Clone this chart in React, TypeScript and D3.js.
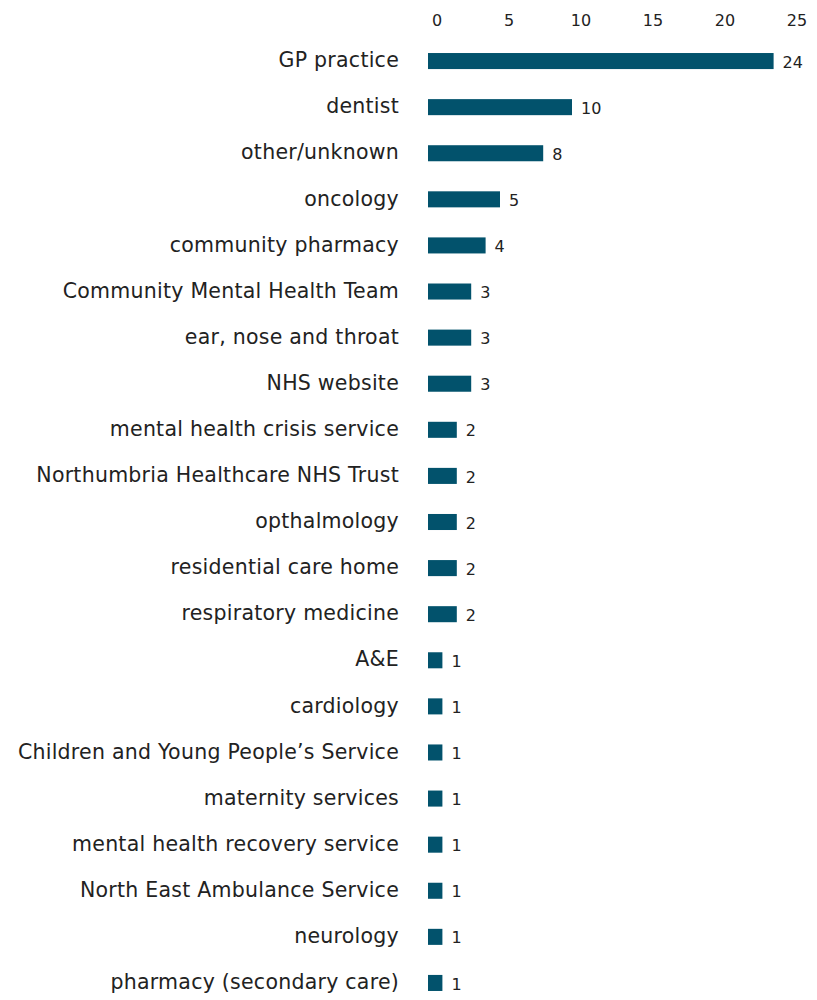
import React from "react";
import * as d3 from "d3";

const categories = [
  "GP practice",
  "dentist",
  "other/unknown",
  "oncology",
  "community pharmacy",
  "Community Mental Health Team",
  "ear, nose and throat",
  "NHS website",
  "mental health crisis service",
  "Northumbria Healthcare NHS Trust",
  "opthalmology",
  "residential care home",
  "respiratory medicine",
  "A&E",
  "cardiology",
  "Children and Young People\u2019s Service",
  "maternity services",
  "mental health recovery service",
  "North East Ambulance Service",
  "neurology",
  "pharmacy (secondary care)",
];
const values = [24, 10, 8, 5, 4, 3, 3, 3, 2, 2, 2, 2, 2, 1, 1, 1, 1, 1, 1, 1, 1];
const ticks = [0, 5, 10, 15, 20, 25];

const W = 817;
const H = 1000;
const FONT = "'DejaVu Sans', sans-serif";
const COLOR = "#02526c";

export default function App() {
  const x = d3.scaleLinear().domain([0, 25]).range([428, 788]);
  const y = d3
    .scaleBand<string>()
    .domain(categories)
    .range([38, 1006])
    .paddingInner(0.652)
    .paddingOuter(0.326);
  const bw = y.bandwidth();
  return (
    <svg
      width={W}
      height={H}
      style={{ position: "absolute", left: 0, top: 0, background: "#fff" }}
    >
      {ticks.map((t) => (
        <text
          key={t}
          x={x(t) + 9}
          y={20}
          dy="0.35em"
          textAnchor="middle"
          fontFamily={FONT}
          fontSize={16}
          fill="#222"
        >
          {t}
        </text>
      ))}
      {categories.map((c, i) => {
        const yc = (y(c) as number) + bw / 2;
        return (
          <g key={c}>
            <text
              x={399}
              y={yc - 1}
              dy="0.35em"
              textAnchor="end"
              fontFamily={FONT}
              fontSize={20.5}
              letterSpacing={0.25}
              fill="#222"
            >
              {c}
            </text>
            <rect
              x={x(0)}
              y={y(c) as number}
              width={x(values[i]) - x(0)}
              height={bw}
              fill={COLOR}
            />
            <text
              x={x(values[i]) + 9}
              y={yc + 1}
              dy="0.35em"
              fontFamily={FONT}
              fontSize={16}
              fill="#222"
            >
              {values[i]}
            </text>
          </g>
        );
      })}
    </svg>
  );
}
